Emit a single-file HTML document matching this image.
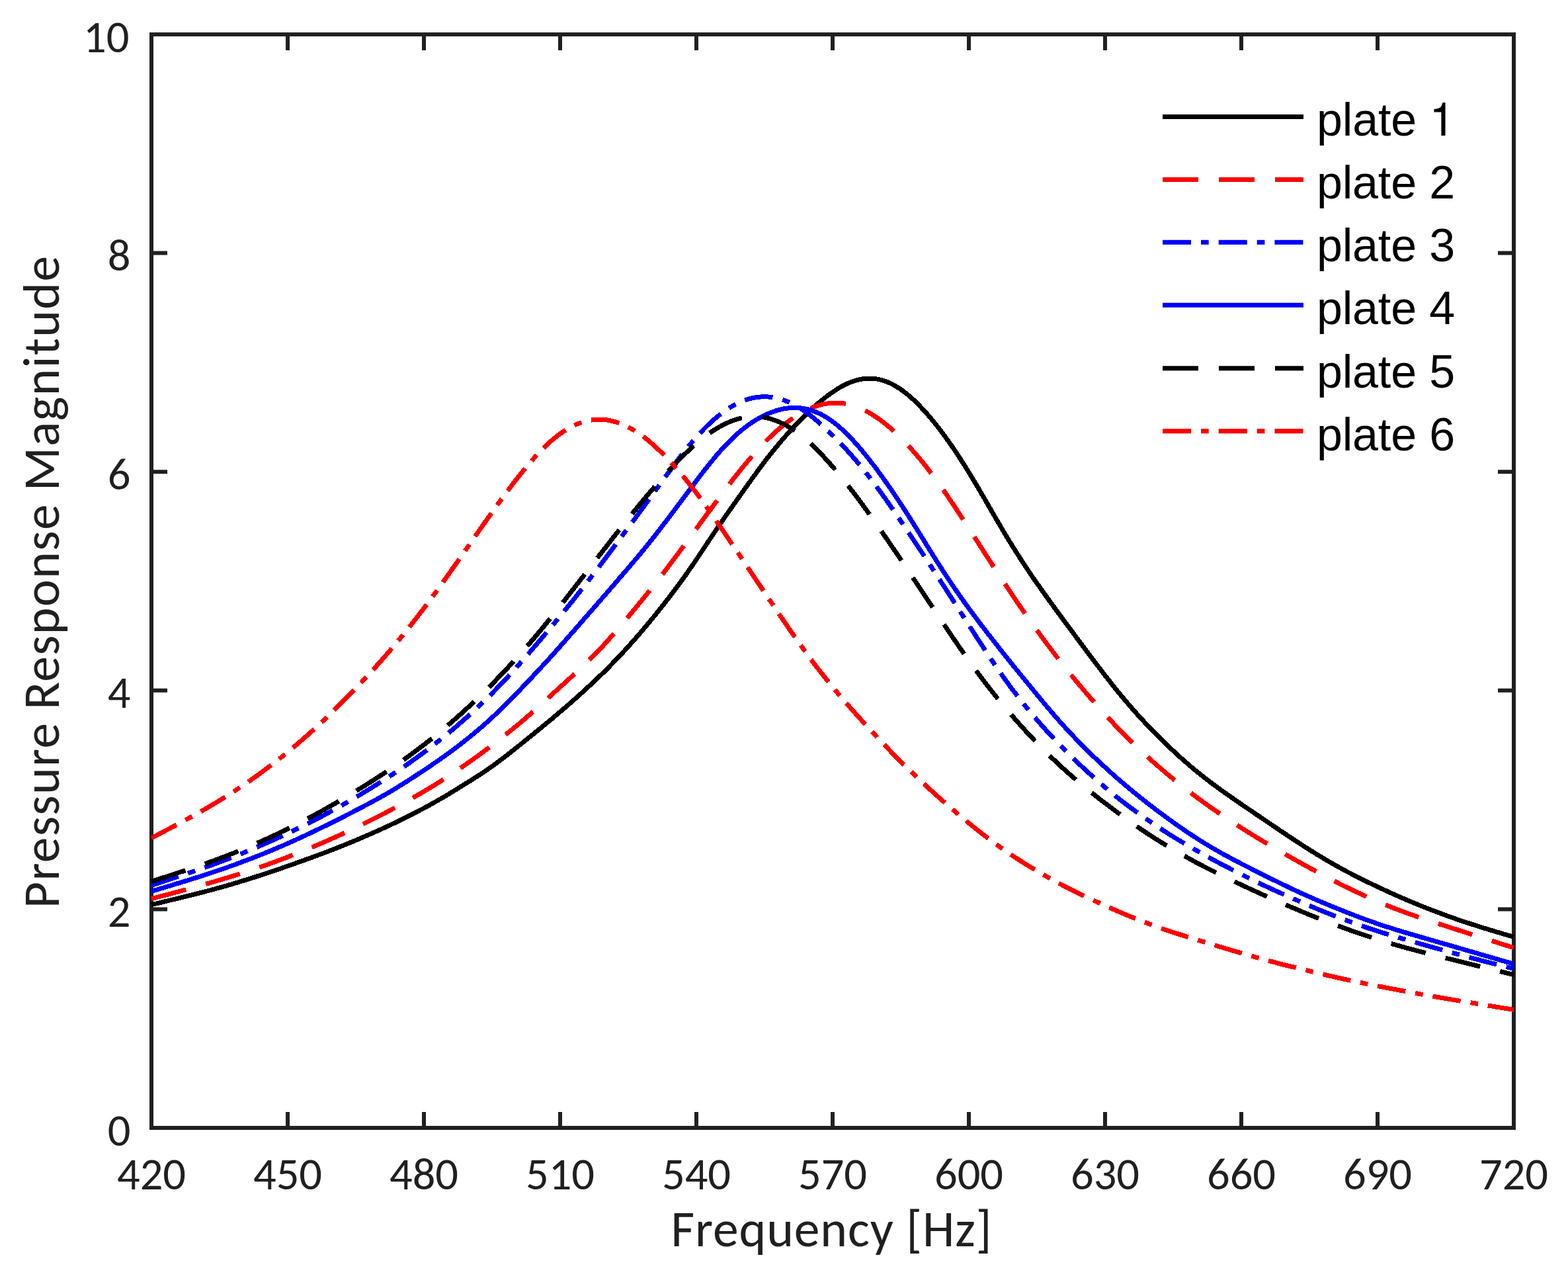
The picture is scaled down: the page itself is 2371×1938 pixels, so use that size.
<!DOCTYPE html><html><head><meta charset="utf-8"><style>html,body{margin:0;padding:0;background:#fff;}svg{display:block;}.tk{font-family:Carlito,"Liberation Sans",sans-serif;fill:#202020;}.lg{font-family:"Liberation Sans",Arial,sans-serif;fill:#000;}.h1{font-family:"TeX Gyre Heros",FreeSans,"Liberation Sans",Arial,sans-serif;}</style></head><body>
<svg width="2371" height="1938" viewBox="0 0 2371 1938">
<rect width="2371" height="1938" fill="#fff"/>
<g stroke="#202020" stroke-width="6" fill="none" stroke-linecap="square">
<rect x="229.0" y="52.0" width="2060.0" height="1653.0" stroke-linecap="butt"/>
<path d="M229.0 1705.0 V1681.0 M229.0 52.0 V76.0" stroke-linecap="butt"/>
<path d="M435.0 1705.0 V1681.0 M435.0 52.0 V76.0" stroke-linecap="butt"/>
<path d="M641.0 1705.0 V1681.0 M641.0 52.0 V76.0" stroke-linecap="butt"/>
<path d="M847.0 1705.0 V1681.0 M847.0 52.0 V76.0" stroke-linecap="butt"/>
<path d="M1053.0 1705.0 V1681.0 M1053.0 52.0 V76.0" stroke-linecap="butt"/>
<path d="M1259.0 1705.0 V1681.0 M1259.0 52.0 V76.0" stroke-linecap="butt"/>
<path d="M1465.0 1705.0 V1681.0 M1465.0 52.0 V76.0" stroke-linecap="butt"/>
<path d="M1671.0 1705.0 V1681.0 M1671.0 52.0 V76.0" stroke-linecap="butt"/>
<path d="M1877.0 1705.0 V1681.0 M1877.0 52.0 V76.0" stroke-linecap="butt"/>
<path d="M2083.0 1705.0 V1681.0 M2083.0 52.0 V76.0" stroke-linecap="butt"/>
<path d="M2289.0 1705.0 V1681.0 M2289.0 52.0 V76.0" stroke-linecap="butt"/>
<path d="M229.0 1705.0 H253.0 M2289.0 1705.0 H2265.0" stroke-linecap="butt"/>
<path d="M229.0 1374.4 H253.0 M2289.0 1374.4 H2265.0" stroke-linecap="butt"/>
<path d="M229.0 1043.8 H253.0 M2289.0 1043.8 H2265.0" stroke-linecap="butt"/>
<path d="M229.0 713.2 H253.0 M2289.0 713.2 H2265.0" stroke-linecap="butt"/>
<path d="M229.0 382.6 H253.0 M2289.0 382.6 H2265.0" stroke-linecap="butt"/>
<path d="M229.0 52.0 H253.0 M2289.0 52.0 H2265.0" stroke-linecap="butt"/>
</g>
<g fill="none" stroke-width="7" stroke-linejoin="round" stroke-linecap="butt" shape-rendering="crispEdges">
<path d="M229.0 1367.7 L233.0 1366.7 L237.0 1365.8 L241.0 1364.8 L245.0 1363.9 L249.0 1362.9 L253.0 1362.0 L257.0 1361.0 L261.0 1360.0 L265.0 1359.1 L269.0 1358.1 L273.0 1357.1 L277.0 1356.2 L281.0 1355.2 L285.0 1354.2 L289.0 1353.2 L293.0 1352.2 L297.0 1351.2 L301.0 1350.1 L305.0 1349.1 L309.0 1348.1 L313.0 1347.0 L317.0 1346.0 L321.0 1344.9 L325.0 1343.8 L329.0 1342.7 L333.0 1341.6 L337.0 1340.5 L341.0 1339.4 L345.0 1338.2 L349.0 1337.1 L353.0 1335.9 L357.0 1334.7 L361.0 1333.5 L365.0 1332.3 L369.0 1331.0 L373.0 1329.8 L377.0 1328.6 L381.0 1327.3 L385.0 1326.0 L389.0 1324.7 L393.0 1323.4 L397.0 1322.1 L401.0 1320.8 L405.0 1319.5 L409.0 1318.1 L413.0 1316.8 L417.0 1315.4 L421.0 1314.1 L425.0 1312.7 L429.0 1311.3 L433.0 1309.9 L437.0 1308.5 L441.0 1307.1 L445.0 1305.7 L449.0 1304.3 L453.0 1302.9 L457.0 1301.4 L461.0 1300.0 L465.0 1298.6 L469.0 1297.1 L473.0 1295.6 L477.0 1294.2 L481.0 1292.7 L485.0 1291.2 L489.0 1289.7 L493.0 1288.2 L497.0 1286.7 L501.0 1285.1 L505.0 1283.6 L509.0 1282.0 L513.0 1280.4 L517.0 1278.9 L521.0 1277.3 L525.0 1275.6 L529.0 1274.0 L533.0 1272.4 L537.0 1270.7 L541.0 1269.0 L545.0 1267.3 L549.0 1265.6 L553.0 1263.9 L557.0 1262.2 L561.0 1260.4 L565.0 1258.6 L569.0 1256.9 L573.0 1255.1 L577.0 1253.2 L581.0 1251.4 L585.0 1249.5 L589.0 1247.7 L593.0 1245.8 L597.0 1243.9 L601.0 1242.0 L605.0 1240.0 L609.0 1238.1 L613.0 1236.1 L617.0 1234.1 L621.0 1232.1 L625.0 1230.1 L629.0 1228.0 L633.0 1225.9 L637.0 1223.8 L641.0 1221.7 L645.0 1219.5 L649.0 1217.4 L653.0 1215.1 L657.0 1212.9 L661.0 1210.6 L665.0 1208.3 L669.0 1206.0 L673.0 1203.7 L677.0 1201.3 L681.0 1198.9 L685.0 1196.4 L689.0 1194.0 L693.0 1191.5 L697.0 1189.0 L701.0 1186.5 L705.0 1184.0 L709.0 1181.6 L713.0 1179.1 L717.0 1176.5 L721.0 1174.0 L725.0 1171.4 L729.0 1168.8 L733.0 1166.1 L737.0 1163.4 L741.0 1160.6 L745.0 1157.8 L749.0 1154.9 L753.0 1151.9 L757.0 1148.9 L761.0 1145.9 L765.0 1142.8 L769.0 1139.7 L773.0 1136.5 L777.0 1133.4 L781.0 1130.2 L785.0 1127.0 L789.0 1123.8 L793.0 1120.6 L797.0 1117.3 L801.0 1114.1 L805.0 1110.9 L809.0 1107.6 L813.0 1104.4 L817.0 1101.1 L821.0 1097.8 L825.0 1094.5 L829.0 1091.2 L833.0 1087.9 L837.0 1084.5 L841.0 1081.1 L845.0 1077.8 L849.0 1074.3 L853.0 1070.9 L857.0 1067.5 L861.0 1064.0 L865.0 1060.5 L869.0 1057.0 L873.0 1053.4 L877.0 1049.8 L881.0 1046.2 L885.0 1042.6 L889.0 1038.9 L893.0 1035.2 L897.0 1031.5 L901.0 1027.7 L905.0 1023.8 L909.0 1020.0 L913.0 1016.1 L917.0 1012.1 L921.0 1008.1 L925.0 1004.0 L929.0 999.9 L933.0 995.7 L937.0 991.5 L941.0 987.2 L945.0 982.9 L949.0 978.5 L953.0 974.1 L957.0 969.6 L961.0 965.1 L965.0 960.5 L969.0 955.8 L973.0 951.1 L977.0 946.4 L981.0 941.6 L985.0 936.7 L989.0 931.8 L993.0 926.9 L997.0 921.9 L1001.0 916.9 L1005.0 911.8 L1009.0 906.6 L1013.0 901.5 L1017.0 896.2 L1021.0 891.0 L1025.0 885.6 L1029.0 880.2 L1033.0 874.6 L1037.0 869.0 L1041.0 863.3 L1045.0 857.5 L1049.0 851.6 L1053.0 845.7 L1057.0 839.7 L1061.0 833.7 L1065.0 827.7 L1069.0 821.6 L1073.0 815.6 L1077.0 809.7 L1081.0 803.7 L1085.0 797.8 L1089.0 792.0 L1093.0 786.2 L1097.0 780.4 L1101.0 774.7 L1105.0 769.0 L1109.0 763.3 L1113.0 757.7 L1117.0 752.0 L1121.0 746.4 L1125.0 740.7 L1129.0 735.1 L1133.0 729.5 L1137.0 723.9 L1141.0 718.4 L1145.0 713.0 L1149.0 707.5 L1153.0 702.2 L1157.0 696.9 L1161.0 691.7 L1165.0 686.6 L1169.0 681.6 L1173.0 676.7 L1177.0 671.9 L1181.0 667.1 L1185.0 662.4 L1189.0 657.9 L1193.0 653.4 L1197.0 649.0 L1201.0 644.7 L1205.0 640.4 L1209.0 636.3 L1213.0 632.3 L1217.0 628.3 L1221.0 624.4 L1225.0 620.6 L1229.0 616.9 L1233.0 613.3 L1237.0 609.8 L1241.0 606.4 L1245.0 603.2 L1249.0 600.0 L1253.0 597.0 L1257.0 594.1 L1261.0 591.4 L1265.0 588.8 L1269.0 586.3 L1273.0 584.1 L1277.0 582.0 L1281.0 580.0 L1285.0 578.3 L1289.0 576.8 L1293.0 575.4 L1297.0 574.3 L1301.0 573.4 L1305.0 572.7 L1309.0 572.3 L1313.0 572.0 L1317.0 572.1 L1321.0 572.3 L1325.0 572.8 L1329.0 573.5 L1333.0 574.5 L1337.0 575.7 L1341.0 577.2 L1345.0 578.8 L1349.0 580.8 L1353.0 582.9 L1357.0 585.3 L1361.0 587.9 L1365.0 590.7 L1369.0 593.8 L1373.0 597.0 L1377.0 600.4 L1381.0 604.0 L1385.0 607.8 L1389.0 611.8 L1393.0 616.0 L1397.0 620.3 L1401.0 624.7 L1405.0 629.3 L1409.0 634.1 L1413.0 639.0 L1417.0 644.0 L1421.0 649.2 L1425.0 654.5 L1429.0 659.9 L1433.0 665.4 L1437.0 671.1 L1441.0 676.9 L1445.0 682.8 L1449.0 688.9 L1453.0 695.0 L1457.0 701.2 L1461.0 707.6 L1465.0 714.1 L1469.0 720.6 L1473.0 727.3 L1477.0 734.0 L1481.0 740.8 L1485.0 747.6 L1489.0 754.5 L1493.0 761.4 L1497.0 768.4 L1501.0 775.3 L1505.0 782.2 L1509.0 789.0 L1513.0 795.8 L1517.0 802.6 L1521.0 809.2 L1525.0 815.9 L1529.0 822.4 L1533.0 828.8 L1537.0 835.2 L1541.0 841.4 L1545.0 847.6 L1549.0 853.7 L1553.0 859.7 L1557.0 865.7 L1561.0 871.6 L1565.0 877.4 L1569.0 883.1 L1573.0 888.8 L1577.0 894.4 L1581.0 900.0 L1585.0 905.6 L1589.0 911.1 L1593.0 916.6 L1597.0 922.1 L1601.0 927.5 L1605.0 933.0 L1609.0 938.4 L1613.0 943.8 L1617.0 949.2 L1621.0 954.6 L1625.0 960.0 L1629.0 965.4 L1633.0 970.7 L1637.0 976.1 L1641.0 981.5 L1645.0 986.8 L1649.0 992.1 L1653.0 997.4 L1657.0 1002.7 L1661.0 1008.0 L1665.0 1013.2 L1669.0 1018.4 L1673.0 1023.6 L1677.0 1028.7 L1681.0 1033.8 L1685.0 1038.8 L1689.0 1043.8 L1693.0 1048.7 L1697.0 1053.5 L1701.0 1058.3 L1705.0 1063.0 L1709.0 1067.6 L1713.0 1072.2 L1717.0 1076.7 L1721.0 1081.2 L1725.0 1085.6 L1729.0 1089.9 L1733.0 1094.2 L1737.0 1098.4 L1741.0 1102.5 L1745.0 1106.6 L1749.0 1110.7 L1753.0 1114.7 L1757.0 1118.7 L1761.0 1122.6 L1765.0 1126.5 L1769.0 1130.3 L1773.0 1134.0 L1777.0 1137.8 L1781.0 1141.4 L1785.0 1145.1 L1789.0 1148.6 L1793.0 1152.1 L1797.0 1155.6 L1801.0 1159.0 L1805.0 1162.4 L1809.0 1165.7 L1813.0 1168.9 L1817.0 1172.1 L1821.0 1175.3 L1825.0 1178.4 L1829.0 1181.5 L1833.0 1184.5 L1837.0 1187.5 L1841.0 1190.4 L1845.0 1193.3 L1849.0 1196.2 L1853.0 1199.0 L1857.0 1201.8 L1861.0 1204.6 L1865.0 1207.4 L1869.0 1210.2 L1873.0 1212.9 L1877.0 1215.7 L1881.0 1218.4 L1885.0 1221.1 L1889.0 1223.8 L1893.0 1226.6 L1897.0 1229.3 L1901.0 1232.0 L1905.0 1234.7 L1909.0 1237.4 L1913.0 1240.1 L1917.0 1242.8 L1921.0 1245.5 L1925.0 1248.3 L1929.0 1251.0 L1933.0 1253.7 L1937.0 1256.4 L1941.0 1259.0 L1945.0 1261.7 L1949.0 1264.4 L1953.0 1267.0 L1957.0 1269.7 L1961.0 1272.3 L1965.0 1274.9 L1969.0 1277.5 L1973.0 1280.1 L1977.0 1282.6 L1981.0 1285.1 L1985.0 1287.6 L1989.0 1290.1 L1993.0 1292.6 L1997.0 1295.0 L2001.0 1297.4 L2005.0 1299.8 L2009.0 1302.1 L2013.0 1304.4 L2017.0 1306.7 L2021.0 1309.0 L2025.0 1311.2 L2029.0 1313.4 L2033.0 1315.6 L2037.0 1317.7 L2041.0 1319.8 L2045.0 1321.9 L2049.0 1324.0 L2053.0 1326.0 L2057.0 1328.0 L2061.0 1330.0 L2065.0 1332.0 L2069.0 1333.9 L2073.0 1335.8 L2077.0 1337.7 L2081.0 1339.6 L2085.0 1341.5 L2089.0 1343.4 L2093.0 1345.2 L2097.0 1347.1 L2101.0 1348.9 L2105.0 1350.7 L2109.0 1352.5 L2113.0 1354.3 L2117.0 1356.0 L2121.0 1357.8 L2125.0 1359.5 L2129.0 1361.2 L2133.0 1362.9 L2137.0 1364.6 L2141.0 1366.2 L2145.0 1367.9 L2149.0 1369.5 L2153.0 1371.1 L2157.0 1372.7 L2161.0 1374.2 L2165.0 1375.8 L2169.0 1377.3 L2173.0 1378.8 L2177.0 1380.3 L2181.0 1381.8 L2185.0 1383.3 L2189.0 1384.7 L2193.0 1386.2 L2197.0 1387.6 L2201.0 1389.0 L2205.0 1390.4 L2209.0 1391.7 L2213.0 1393.1 L2217.0 1394.4 L2221.0 1395.7 L2225.0 1397.0 L2229.0 1398.3 L2233.0 1399.6 L2237.0 1400.9 L2241.0 1402.1 L2245.0 1403.4 L2249.0 1404.6 L2253.0 1405.8 L2257.0 1407.0 L2261.0 1408.2 L2265.0 1409.4 L2269.0 1410.6 L2273.0 1411.8 L2277.0 1412.9 L2281.0 1414.1 L2285.0 1415.3 L2289.0 1416.5" stroke="#000000"/>
<path d="M229.0 1358.6 L233.0 1357.6 L237.0 1356.5 L241.0 1355.5 L245.0 1354.4 L249.0 1353.4 L253.0 1352.3 L257.0 1351.3 L261.0 1350.2 L265.0 1349.1 L269.0 1348.1 L273.0 1347.0 L277.0 1345.9 L281.0 1344.8 L285.0 1343.8 L289.0 1342.7 L293.0 1341.6 L297.0 1340.5 L301.0 1339.4 L305.0 1338.2 L309.0 1337.1 L313.0 1336.0 L317.0 1334.8 L321.0 1333.7 L325.0 1332.5 L329.0 1331.3 L333.0 1330.1 L337.0 1328.9 L341.0 1327.7 L345.0 1326.5 L349.0 1325.3 L353.0 1324.0 L357.0 1322.8 L361.0 1321.5 L365.0 1320.2 L369.0 1318.9 L373.0 1317.6 L377.0 1316.3 L381.0 1315.0 L385.0 1313.6 L389.0 1312.3 L393.0 1310.9 L397.0 1309.5 L401.0 1308.1 L405.0 1306.7 L409.0 1305.3 L413.0 1303.8 L417.0 1302.4 L421.0 1300.9 L425.0 1299.4 L429.0 1297.9 L433.0 1296.4 L437.0 1294.8 L441.0 1293.3 L445.0 1291.7 L449.0 1290.1 L453.0 1288.5 L457.0 1286.9 L461.0 1285.3 L465.0 1283.6 L469.0 1282.0 L473.0 1280.3 L477.0 1278.6 L481.0 1276.9 L485.0 1275.2 L489.0 1273.5 L493.0 1271.7 L497.0 1270.0 L501.0 1268.2 L505.0 1266.4 L509.0 1264.6 L513.0 1262.8 L517.0 1260.9 L521.0 1259.1 L525.0 1257.2 L529.0 1255.4 L533.0 1253.5 L537.0 1251.6 L541.0 1249.7 L545.0 1247.7 L549.0 1245.8 L553.0 1243.8 L557.0 1241.8 L561.0 1239.8 L565.0 1237.8 L569.0 1235.8 L573.0 1233.8 L577.0 1231.7 L581.0 1229.7 L585.0 1227.6 L589.0 1225.5 L593.0 1223.3 L597.0 1221.2 L601.0 1219.0 L605.0 1216.9 L609.0 1214.7 L613.0 1212.5 L617.0 1210.2 L621.0 1208.0 L625.0 1205.7 L629.0 1203.4 L633.0 1201.1 L637.0 1198.8 L641.0 1196.4 L645.0 1194.1 L649.0 1191.7 L653.0 1189.2 L657.0 1186.8 L661.0 1184.3 L665.0 1181.8 L669.0 1179.2 L673.0 1176.6 L677.0 1174.0 L681.0 1171.4 L685.0 1168.8 L689.0 1166.1 L693.0 1163.4 L697.0 1160.7 L701.0 1157.9 L705.0 1155.1 L709.0 1152.3 L713.0 1149.5 L717.0 1146.7 L721.0 1143.8 L725.0 1140.9 L729.0 1138.0 L733.0 1135.0 L737.0 1132.0 L741.0 1129.0 L745.0 1125.9 L749.0 1122.8 L753.0 1119.7 L757.0 1116.5 L761.0 1113.4 L765.0 1110.2 L769.0 1107.0 L773.0 1103.8 L777.0 1100.6 L781.0 1097.3 L785.0 1094.0 L789.0 1090.6 L793.0 1087.2 L797.0 1083.7 L801.0 1080.2 L805.0 1076.7 L809.0 1073.1 L813.0 1069.5 L817.0 1065.9 L821.0 1062.3 L825.0 1058.6 L829.0 1055.0 L833.0 1051.4 L837.0 1047.7 L841.0 1044.1 L845.0 1040.4 L849.0 1036.8 L853.0 1033.2 L857.0 1029.5 L861.0 1025.9 L865.0 1022.2 L869.0 1018.6 L873.0 1014.9 L877.0 1011.2 L881.0 1007.4 L885.0 1003.6 L889.0 999.7 L893.0 995.8 L897.0 991.8 L901.0 987.7 L905.0 983.5 L909.0 979.3 L913.0 975.0 L917.0 970.6 L921.0 966.1 L925.0 961.6 L929.0 957.1 L933.0 952.4 L937.0 947.8 L941.0 943.1 L945.0 938.3 L949.0 933.5 L953.0 928.7 L957.0 923.9 L961.0 919.1 L965.0 914.2 L969.0 909.3 L973.0 904.4 L977.0 899.5 L981.0 894.5 L985.0 889.5 L989.0 884.4 L993.0 879.3 L997.0 874.1 L1001.0 869.0 L1005.0 863.8 L1009.0 858.5 L1013.0 853.3 L1017.0 848.0 L1021.0 842.6 L1025.0 837.3 L1029.0 831.9 L1033.0 826.5 L1037.0 821.1 L1041.0 815.6 L1045.0 810.1 L1049.0 804.7 L1053.0 799.2 L1057.0 793.7 L1061.0 788.3 L1065.0 782.8 L1069.0 777.3 L1073.0 771.9 L1077.0 766.5 L1081.0 761.1 L1085.0 755.7 L1089.0 750.3 L1093.0 745.0 L1097.0 739.6 L1101.0 734.4 L1105.0 729.1 L1109.0 724.0 L1113.0 718.9 L1117.0 713.8 L1121.0 708.9 L1125.0 704.0 L1129.0 699.2 L1133.0 694.5 L1137.0 689.8 L1141.0 685.3 L1145.0 680.8 L1149.0 676.5 L1153.0 672.2 L1157.0 668.1 L1161.0 664.0 L1165.0 660.1 L1169.0 656.4 L1173.0 652.7 L1177.0 649.2 L1181.0 645.8 L1185.0 642.5 L1189.0 639.3 L1193.0 636.3 L1197.0 633.5 L1201.0 630.7 L1205.0 628.2 L1209.0 625.7 L1213.0 623.4 L1217.0 621.3 L1221.0 619.3 L1225.0 617.5 L1229.0 615.9 L1233.0 614.4 L1237.0 613.1 L1241.0 612.0 L1245.0 611.0 L1249.0 610.3 L1253.0 609.7 L1257.0 609.3 L1261.0 609.0 L1265.0 609.0 L1269.0 609.2 L1273.0 609.5 L1277.0 610.1 L1281.0 610.8 L1285.0 611.7 L1289.0 612.8 L1293.0 614.1 L1297.0 615.6 L1301.0 617.3 L1305.0 619.1 L1309.0 621.1 L1313.0 623.2 L1317.0 625.5 L1321.0 628.0 L1325.0 630.6 L1329.0 633.4 L1333.0 636.3 L1337.0 639.4 L1341.0 642.6 L1345.0 645.9 L1349.0 649.4 L1353.0 653.1 L1357.0 656.8 L1361.0 660.7 L1365.0 664.8 L1369.0 668.9 L1373.0 673.2 L1377.0 677.6 L1381.0 682.1 L1385.0 686.7 L1389.0 691.4 L1393.0 696.2 L1397.0 701.2 L1401.0 706.2 L1405.0 711.4 L1409.0 716.6 L1413.0 722.0 L1417.0 727.5 L1421.0 733.0 L1425.0 738.7 L1429.0 744.4 L1433.0 750.2 L1437.0 756.1 L1441.0 762.0 L1445.0 768.0 L1449.0 774.1 L1453.0 780.2 L1457.0 786.3 L1461.0 792.5 L1465.0 798.7 L1469.0 804.9 L1473.0 811.1 L1477.0 817.3 L1481.0 823.6 L1485.0 829.8 L1489.0 836.0 L1493.0 842.2 L1497.0 848.3 L1501.0 854.5 L1505.0 860.6 L1509.0 866.8 L1513.0 872.8 L1517.0 878.9 L1521.0 884.9 L1525.0 890.9 L1529.0 896.9 L1533.0 902.8 L1537.0 908.7 L1541.0 914.5 L1545.0 920.3 L1549.0 926.1 L1553.0 931.8 L1557.0 937.5 L1561.0 943.1 L1565.0 948.7 L1569.0 954.2 L1573.0 959.7 L1577.0 965.2 L1581.0 970.6 L1585.0 976.0 L1589.0 981.3 L1593.0 986.5 L1597.0 991.7 L1601.0 996.9 L1605.0 1002.0 L1609.0 1007.1 L1613.0 1012.1 L1617.0 1017.1 L1621.0 1022.0 L1625.0 1026.9 L1629.0 1031.7 L1633.0 1036.5 L1637.0 1041.2 L1641.0 1046.0 L1645.0 1050.6 L1649.0 1055.2 L1653.0 1059.8 L1657.0 1064.4 L1661.0 1068.9 L1665.0 1073.4 L1669.0 1077.8 L1673.0 1082.2 L1677.0 1086.6 L1681.0 1090.8 L1685.0 1095.1 L1689.0 1099.2 L1693.0 1103.4 L1697.0 1107.5 L1701.0 1111.5 L1705.0 1115.5 L1709.0 1119.4 L1713.0 1123.3 L1717.0 1127.1 L1721.0 1130.9 L1725.0 1134.7 L1729.0 1138.4 L1733.0 1142.1 L1737.0 1145.7 L1741.0 1149.3 L1745.0 1152.9 L1749.0 1156.4 L1753.0 1159.9 L1757.0 1163.3 L1761.0 1166.7 L1765.0 1170.1 L1769.0 1173.4 L1773.0 1176.7 L1777.0 1180.0 L1781.0 1183.2 L1785.0 1186.4 L1789.0 1189.5 L1793.0 1192.7 L1797.0 1195.7 L1801.0 1198.8 L1805.0 1201.8 L1809.0 1204.8 L1813.0 1207.8 L1817.0 1210.7 L1821.0 1213.6 L1825.0 1216.4 L1829.0 1219.3 L1833.0 1222.1 L1837.0 1224.9 L1841.0 1227.6 L1845.0 1230.4 L1849.0 1233.1 L1853.0 1235.8 L1857.0 1238.4 L1861.0 1241.1 L1865.0 1243.7 L1869.0 1246.3 L1873.0 1248.9 L1877.0 1251.4 L1881.0 1254.0 L1885.0 1256.5 L1889.0 1259.0 L1893.0 1261.5 L1897.0 1263.9 L1901.0 1266.4 L1905.0 1268.8 L1909.0 1271.2 L1913.0 1273.6 L1917.0 1275.9 L1921.0 1278.3 L1925.0 1280.7 L1929.0 1283.0 L1933.0 1285.3 L1937.0 1287.6 L1941.0 1290.0 L1945.0 1292.2 L1949.0 1294.5 L1953.0 1296.8 L1957.0 1299.1 L1961.0 1301.3 L1965.0 1303.5 L1969.0 1305.8 L1973.0 1308.0 L1977.0 1310.2 L1981.0 1312.4 L1985.0 1314.6 L1989.0 1316.7 L1993.0 1318.9 L1997.0 1321.0 L2001.0 1323.2 L2005.0 1325.3 L2009.0 1327.4 L2013.0 1329.5 L2017.0 1331.6 L2021.0 1333.6 L2025.0 1335.7 L2029.0 1337.7 L2033.0 1339.7 L2037.0 1341.6 L2041.0 1343.6 L2045.0 1345.5 L2049.0 1347.4 L2053.0 1349.3 L2057.0 1351.1 L2061.0 1353.0 L2065.0 1354.8 L2069.0 1356.6 L2073.0 1358.4 L2077.0 1360.1 L2081.0 1361.9 L2085.0 1363.6 L2089.0 1365.3 L2093.0 1367.0 L2097.0 1368.6 L2101.0 1370.2 L2105.0 1371.8 L2109.0 1373.4 L2113.0 1374.9 L2117.0 1376.4 L2121.0 1377.9 L2125.0 1379.4 L2129.0 1380.8 L2133.0 1382.2 L2137.0 1383.6 L2141.0 1385.0 L2145.0 1386.4 L2149.0 1387.7 L2153.0 1389.1 L2157.0 1390.4 L2161.0 1391.8 L2165.0 1393.1 L2169.0 1394.4 L2173.0 1395.7 L2177.0 1397.0 L2181.0 1398.3 L2185.0 1399.6 L2189.0 1400.9 L2193.0 1402.2 L2197.0 1403.5 L2201.0 1404.7 L2205.0 1406.0 L2209.0 1407.3 L2213.0 1408.6 L2217.0 1409.9 L2221.0 1411.2 L2225.0 1412.5 L2229.0 1413.7 L2233.0 1415.0 L2237.0 1416.3 L2241.0 1417.6 L2245.0 1418.9 L2249.0 1420.1 L2253.0 1421.4 L2257.0 1422.7 L2261.0 1424.0 L2265.0 1425.2 L2269.0 1426.5 L2273.0 1427.8 L2277.0 1429.0 L2281.0 1430.3 L2285.0 1431.6 L2289.0 1432.8" stroke="#ff0000" stroke-dasharray="54 31"/>
<path d="M229.0 1338.3 L233.0 1337.0 L237.0 1335.7 L241.0 1334.4 L245.0 1333.1 L249.0 1331.8 L253.0 1330.5 L257.0 1329.2 L261.0 1327.9 L265.0 1326.6 L269.0 1325.3 L273.0 1324.0 L277.0 1322.6 L281.0 1321.3 L285.0 1319.9 L289.0 1318.6 L293.0 1317.2 L297.0 1315.8 L301.0 1314.5 L305.0 1313.1 L309.0 1311.7 L313.0 1310.2 L317.0 1308.8 L321.0 1307.4 L325.0 1305.9 L329.0 1304.4 L333.0 1302.9 L337.0 1301.4 L341.0 1299.9 L345.0 1298.4 L349.0 1296.8 L353.0 1295.3 L357.0 1293.7 L361.0 1292.1 L365.0 1290.5 L369.0 1288.9 L373.0 1287.2 L377.0 1285.6 L381.0 1283.9 L385.0 1282.2 L389.0 1280.5 L393.0 1278.8 L397.0 1277.0 L401.0 1275.3 L405.0 1273.5 L409.0 1271.8 L413.0 1270.0 L417.0 1268.1 L421.0 1266.3 L425.0 1264.5 L429.0 1262.6 L433.0 1260.8 L437.0 1258.9 L441.0 1257.0 L445.0 1255.1 L449.0 1253.1 L453.0 1251.2 L457.0 1249.2 L461.0 1247.2 L465.0 1245.2 L469.0 1243.2 L473.0 1241.1 L477.0 1239.1 L481.0 1237.0 L485.0 1234.9 L489.0 1232.8 L493.0 1230.6 L497.0 1228.4 L501.0 1226.3 L505.0 1224.1 L509.0 1221.8 L513.0 1219.6 L517.0 1217.4 L521.0 1215.1 L525.0 1212.8 L529.0 1210.5 L533.0 1208.2 L537.0 1205.8 L541.0 1203.5 L545.0 1201.1 L549.0 1198.7 L553.0 1196.3 L557.0 1193.8 L561.0 1191.4 L565.0 1188.9 L569.0 1186.4 L573.0 1183.9 L577.0 1181.4 L581.0 1178.8 L585.0 1176.2 L589.0 1173.6 L593.0 1171.0 L597.0 1168.3 L601.0 1165.7 L605.0 1163.0 L609.0 1160.2 L613.0 1157.5 L617.0 1154.7 L621.0 1151.9 L625.0 1149.0 L629.0 1146.1 L633.0 1143.2 L637.0 1140.3 L641.0 1137.3 L645.0 1134.3 L649.0 1131.3 L653.0 1128.2 L657.0 1125.1 L661.0 1122.0 L665.0 1118.8 L669.0 1115.6 L673.0 1112.4 L677.0 1109.1 L681.0 1105.8 L685.0 1102.4 L689.0 1099.0 L693.0 1095.6 L697.0 1092.1 L701.0 1088.6 L705.0 1085.1 L709.0 1081.5 L713.0 1077.8 L717.0 1074.1 L721.0 1070.4 L725.0 1066.6 L729.0 1062.8 L733.0 1058.9 L737.0 1055.0 L741.0 1051.1 L745.0 1047.1 L749.0 1043.0 L753.0 1038.9 L757.0 1034.7 L761.0 1030.5 L765.0 1026.3 L769.0 1022.0 L773.0 1017.6 L777.0 1013.2 L781.0 1008.7 L785.0 1004.2 L789.0 999.7 L793.0 995.2 L797.0 990.6 L801.0 986.0 L805.0 981.3 L809.0 976.7 L813.0 972.0 L817.0 967.3 L821.0 962.6 L825.0 957.8 L829.0 953.1 L833.0 948.3 L837.0 943.5 L841.0 938.7 L845.0 933.8 L849.0 929.0 L853.0 924.1 L857.0 919.2 L861.0 914.2 L865.0 909.3 L869.0 904.3 L873.0 899.2 L877.0 894.2 L881.0 889.1 L885.0 884.0 L889.0 878.8 L893.0 873.6 L897.0 868.4 L901.0 863.2 L905.0 857.9 L909.0 852.6 L913.0 847.3 L917.0 842.0 L921.0 836.6 L925.0 831.3 L929.0 825.9 L933.0 820.5 L937.0 815.1 L941.0 809.7 L945.0 804.3 L949.0 798.9 L953.0 793.5 L957.0 788.1 L961.0 782.7 L965.0 777.3 L969.0 771.8 L973.0 766.4 L977.0 761.0 L981.0 755.5 L985.0 750.0 L989.0 744.5 L993.0 739.0 L997.0 733.5 L1001.0 728.0 L1005.0 722.4 L1009.0 716.9 L1013.0 711.4 L1017.0 706.0 L1021.0 700.6 L1025.0 695.3 L1029.0 690.0 L1033.0 684.9 L1037.0 679.8 L1041.0 674.9 L1045.0 670.1 L1049.0 665.4 L1053.0 660.9 L1057.0 656.4 L1061.0 652.2 L1065.0 648.0 L1069.0 644.0 L1073.0 640.2 L1077.0 636.5 L1081.0 633.0 L1085.0 629.6 L1089.0 626.4 L1093.0 623.3 L1097.0 620.5 L1101.0 617.8 L1105.0 615.3 L1109.0 612.9 L1113.0 610.8 L1117.0 608.9 L1121.0 607.1 L1125.0 605.5 L1129.0 604.1 L1133.0 602.9 L1137.0 601.9 L1141.0 601.1 L1145.0 600.5 L1149.0 600.1 L1153.0 599.8 L1157.0 599.8 L1161.0 599.9 L1165.0 600.3 L1169.0 600.8 L1173.0 601.5 L1177.0 602.5 L1181.0 603.6 L1185.0 604.9 L1189.0 606.4 L1193.0 608.0 L1197.0 609.9 L1201.0 612.0 L1205.0 614.2 L1209.0 616.6 L1213.0 619.2 L1217.0 621.9 L1221.0 624.8 L1225.0 627.8 L1229.0 630.9 L1233.0 634.2 L1237.0 637.6 L1241.0 641.1 L1245.0 644.7 L1249.0 648.4 L1253.0 652.2 L1257.0 656.1 L1261.0 660.0 L1265.0 664.1 L1269.0 668.2 L1273.0 672.4 L1277.0 676.6 L1281.0 681.0 L1285.0 685.4 L1289.0 690.0 L1293.0 694.6 L1297.0 699.3 L1301.0 704.1 L1305.0 709.0 L1309.0 714.1 L1313.0 719.2 L1317.0 724.3 L1321.0 729.6 L1325.0 735.0 L1329.0 740.4 L1333.0 745.9 L1337.0 751.5 L1341.0 757.1 L1345.0 762.8 L1349.0 768.5 L1353.0 774.3 L1357.0 780.1 L1361.0 786.0 L1365.0 791.9 L1369.0 797.8 L1373.0 803.7 L1377.0 809.7 L1381.0 815.6 L1385.0 821.6 L1389.0 827.7 L1393.0 833.7 L1397.0 839.8 L1401.0 845.8 L1405.0 851.9 L1409.0 858.0 L1413.0 864.2 L1417.0 870.3 L1421.0 876.5 L1425.0 882.6 L1429.0 888.8 L1433.0 895.0 L1437.0 901.3 L1441.0 907.5 L1445.0 913.7 L1449.0 920.0 L1453.0 926.2 L1457.0 932.5 L1461.0 938.7 L1465.0 945.0 L1469.0 951.2 L1473.0 957.4 L1477.0 963.6 L1481.0 969.8 L1485.0 975.9 L1489.0 982.0 L1493.0 988.1 L1497.0 994.1 L1501.0 1000.0 L1505.0 1005.9 L1509.0 1011.8 L1513.0 1017.5 L1517.0 1023.2 L1521.0 1028.8 L1525.0 1034.3 L1529.0 1039.7 L1533.0 1045.0 L1537.0 1050.2 L1541.0 1055.4 L1545.0 1060.5 L1549.0 1065.5 L1553.0 1070.4 L1557.0 1075.3 L1561.0 1080.1 L1565.0 1084.8 L1569.0 1089.4 L1573.0 1094.0 L1577.0 1098.5 L1581.0 1103.0 L1585.0 1107.4 L1589.0 1111.7 L1593.0 1116.0 L1597.0 1120.2 L1601.0 1124.4 L1605.0 1128.5 L1609.0 1132.6 L1613.0 1136.6 L1617.0 1140.6 L1621.0 1144.5 L1625.0 1148.4 L1629.0 1152.3 L1633.0 1156.1 L1637.0 1159.9 L1641.0 1163.6 L1645.0 1167.3 L1649.0 1170.9 L1653.0 1174.5 L1657.0 1178.1 L1661.0 1181.6 L1665.0 1185.1 L1669.0 1188.6 L1673.0 1192.0 L1677.0 1195.3 L1681.0 1198.6 L1685.0 1201.9 L1689.0 1205.1 L1693.0 1208.3 L1697.0 1211.4 L1701.0 1214.5 L1705.0 1217.5 L1709.0 1220.5 L1713.0 1223.5 L1717.0 1226.4 L1721.0 1229.3 L1725.0 1232.2 L1729.0 1235.0 L1733.0 1237.8 L1737.0 1240.6 L1741.0 1243.3 L1745.0 1246.1 L1749.0 1248.8 L1753.0 1251.4 L1757.0 1254.0 L1761.0 1256.6 L1765.0 1259.2 L1769.0 1261.7 L1773.0 1264.2 L1777.0 1266.7 L1781.0 1269.1 L1785.0 1271.5 L1789.0 1273.9 L1793.0 1276.3 L1797.0 1278.6 L1801.0 1280.9 L1805.0 1283.2 L1809.0 1285.5 L1813.0 1287.8 L1817.0 1290.1 L1821.0 1292.3 L1825.0 1294.5 L1829.0 1296.7 L1833.0 1298.9 L1837.0 1301.1 L1841.0 1303.2 L1845.0 1305.4 L1849.0 1307.5 L1853.0 1309.6 L1857.0 1311.6 L1861.0 1313.7 L1865.0 1315.7 L1869.0 1317.8 L1873.0 1319.8 L1877.0 1321.8 L1881.0 1323.8 L1885.0 1325.8 L1889.0 1327.7 L1893.0 1329.7 L1897.0 1331.6 L1901.0 1333.6 L1905.0 1335.5 L1909.0 1337.4 L1913.0 1339.3 L1917.0 1341.2 L1921.0 1343.0 L1925.0 1344.9 L1929.0 1346.7 L1933.0 1348.5 L1937.0 1350.3 L1941.0 1352.1 L1945.0 1353.9 L1949.0 1355.6 L1953.0 1357.4 L1957.0 1359.2 L1961.0 1360.9 L1965.0 1362.6 L1969.0 1364.4 L1973.0 1366.1 L1977.0 1367.8 L1981.0 1369.5 L1985.0 1371.2 L1989.0 1372.9 L1993.0 1374.5 L1997.0 1376.2 L2001.0 1377.8 L2005.0 1379.4 L2009.0 1381.0 L2013.0 1382.6 L2017.0 1384.2 L2021.0 1385.7 L2025.0 1387.3 L2029.0 1388.8 L2033.0 1390.3 L2037.0 1391.8 L2041.0 1393.2 L2045.0 1394.7 L2049.0 1396.1 L2053.0 1397.5 L2057.0 1398.9 L2061.0 1400.3 L2065.0 1401.7 L2069.0 1403.0 L2073.0 1404.3 L2077.0 1405.6 L2081.0 1406.9 L2085.0 1408.2 L2089.0 1409.5 L2093.0 1410.7 L2097.0 1412.0 L2101.0 1413.2 L2105.0 1414.4 L2109.0 1415.6 L2113.0 1416.8 L2117.0 1418.0 L2121.0 1419.1 L2125.0 1420.3 L2129.0 1421.4 L2133.0 1422.6 L2137.0 1423.7 L2141.0 1424.9 L2145.0 1426.0 L2149.0 1427.1 L2153.0 1428.3 L2157.0 1429.4 L2161.0 1430.5 L2165.0 1431.6 L2169.0 1432.8 L2173.0 1433.9 L2177.0 1435.0 L2181.0 1436.1 L2185.0 1437.2 L2189.0 1438.3 L2193.0 1439.4 L2197.0 1440.5 L2201.0 1441.6 L2205.0 1442.7 L2209.0 1443.8 L2213.0 1444.9 L2217.0 1446.0 L2221.0 1447.0 L2225.0 1448.1 L2229.0 1449.1 L2233.0 1450.2 L2237.0 1451.2 L2241.0 1452.3 L2245.0 1453.3 L2249.0 1454.3 L2253.0 1455.4 L2257.0 1456.4 L2261.0 1457.4 L2265.0 1458.4 L2269.0 1459.5 L2273.0 1460.5 L2277.0 1461.5 L2281.0 1462.5 L2285.0 1463.5 L2289.0 1464.5" stroke="#0000ff" stroke-dasharray="43 15 11.7 15"/>
<path d="M229.0 1347.5 L233.0 1346.3 L237.0 1345.1 L241.0 1343.9 L245.0 1342.7 L249.0 1341.5 L253.0 1340.3 L257.0 1339.1 L261.0 1337.8 L265.0 1336.6 L269.0 1335.4 L273.0 1334.2 L277.0 1333.0 L281.0 1331.7 L285.0 1330.5 L289.0 1329.2 L293.0 1328.0 L297.0 1326.7 L301.0 1325.4 L305.0 1324.1 L309.0 1322.8 L313.0 1321.5 L317.0 1320.2 L321.0 1318.9 L325.0 1317.5 L329.0 1316.2 L333.0 1314.8 L337.0 1313.4 L341.0 1312.1 L345.0 1310.7 L349.0 1309.2 L353.0 1307.8 L357.0 1306.4 L361.0 1304.9 L365.0 1303.4 L369.0 1301.9 L373.0 1300.4 L377.0 1298.9 L381.0 1297.4 L385.0 1295.8 L389.0 1294.3 L393.0 1292.7 L397.0 1291.1 L401.0 1289.5 L405.0 1287.8 L409.0 1286.2 L413.0 1284.5 L417.0 1282.8 L421.0 1281.1 L425.0 1279.4 L429.0 1277.7 L433.0 1275.9 L437.0 1274.2 L441.0 1272.4 L445.0 1270.6 L449.0 1268.8 L453.0 1266.9 L457.0 1265.1 L461.0 1263.2 L465.0 1261.3 L469.0 1259.5 L473.0 1257.6 L477.0 1255.6 L481.0 1253.7 L485.0 1251.8 L489.0 1249.8 L493.0 1247.9 L497.0 1245.9 L501.0 1243.9 L505.0 1241.9 L509.0 1239.9 L513.0 1237.9 L517.0 1235.9 L521.0 1233.9 L525.0 1231.8 L529.0 1229.8 L533.0 1227.7 L537.0 1225.6 L541.0 1223.6 L545.0 1221.5 L549.0 1219.4 L553.0 1217.3 L557.0 1215.2 L561.0 1213.0 L565.0 1210.8 L569.0 1208.7 L573.0 1206.5 L577.0 1204.2 L581.0 1202.0 L585.0 1199.7 L589.0 1197.4 L593.0 1195.0 L597.0 1192.6 L601.0 1190.2 L605.0 1187.7 L609.0 1185.2 L613.0 1182.7 L617.0 1180.1 L621.0 1177.6 L625.0 1175.0 L629.0 1172.4 L633.0 1169.7 L637.0 1167.1 L641.0 1164.4 L645.0 1161.8 L649.0 1159.1 L653.0 1156.4 L657.0 1153.6 L661.0 1150.8 L665.0 1148.1 L669.0 1145.2 L673.0 1142.4 L677.0 1139.5 L681.0 1136.6 L685.0 1133.6 L689.0 1130.6 L693.0 1127.6 L697.0 1124.5 L701.0 1121.4 L705.0 1118.2 L709.0 1115.0 L713.0 1111.8 L717.0 1108.5 L721.0 1105.1 L725.0 1101.7 L729.0 1098.3 L733.0 1094.8 L737.0 1091.2 L741.0 1087.6 L745.0 1083.9 L749.0 1080.1 L753.0 1076.3 L757.0 1072.5 L761.0 1068.6 L765.0 1064.6 L769.0 1060.6 L773.0 1056.6 L777.0 1052.5 L781.0 1048.4 L785.0 1044.2 L789.0 1040.0 L793.0 1035.8 L797.0 1031.6 L801.0 1027.3 L805.0 1023.1 L809.0 1018.8 L813.0 1014.5 L817.0 1010.2 L821.0 1005.9 L825.0 1001.5 L829.0 997.2 L833.0 992.8 L837.0 988.3 L841.0 983.9 L845.0 979.4 L849.0 974.8 L853.0 970.3 L857.0 965.8 L861.0 961.2 L865.0 956.6 L869.0 952.1 L873.0 947.5 L877.0 942.9 L881.0 938.3 L885.0 933.7 L889.0 929.1 L893.0 924.5 L897.0 920.0 L901.0 915.4 L905.0 910.8 L909.0 906.2 L913.0 901.6 L917.0 897.0 L921.0 892.4 L925.0 887.7 L929.0 883.1 L933.0 878.4 L937.0 873.8 L941.0 869.1 L945.0 864.5 L949.0 859.8 L953.0 855.1 L957.0 850.4 L961.0 845.7 L965.0 840.9 L969.0 836.1 L973.0 831.3 L977.0 826.4 L981.0 821.4 L985.0 816.4 L989.0 811.4 L993.0 806.3 L997.0 801.1 L1001.0 795.9 L1005.0 790.7 L1009.0 785.5 L1013.0 780.2 L1017.0 774.9 L1021.0 769.5 L1025.0 764.2 L1029.0 758.8 L1033.0 753.4 L1037.0 748.1 L1041.0 742.7 L1045.0 737.4 L1049.0 732.1 L1053.0 726.8 L1057.0 721.5 L1061.0 716.3 L1065.0 711.2 L1069.0 706.1 L1073.0 701.1 L1077.0 696.2 L1081.0 691.4 L1085.0 686.6 L1089.0 682.0 L1093.0 677.6 L1097.0 673.3 L1101.0 669.1 L1105.0 665.1 L1109.0 661.2 L1113.0 657.5 L1117.0 654.0 L1121.0 650.6 L1125.0 647.4 L1129.0 644.4 L1133.0 641.5 L1137.0 638.7 L1141.0 636.2 L1145.0 633.7 L1149.0 631.5 L1153.0 629.3 L1157.0 627.4 L1161.0 625.5 L1165.0 623.9 L1169.0 622.4 L1173.0 621.0 L1177.0 619.8 L1181.0 618.8 L1185.0 617.9 L1189.0 617.3 L1193.0 616.8 L1197.0 616.5 L1201.0 616.3 L1205.0 616.4 L1209.0 616.7 L1213.0 617.1 L1217.0 617.8 L1221.0 618.6 L1225.0 619.7 L1229.0 621.0 L1233.0 622.5 L1237.0 624.2 L1241.0 626.1 L1245.0 628.2 L1249.0 630.6 L1253.0 633.1 L1257.0 635.9 L1261.0 638.8 L1265.0 642.0 L1269.0 645.3 L1273.0 648.9 L1277.0 652.6 L1281.0 656.5 L1285.0 660.6 L1289.0 664.8 L1293.0 669.2 L1297.0 673.7 L1301.0 678.3 L1305.0 683.1 L1309.0 688.0 L1313.0 693.0 L1317.0 698.1 L1321.0 703.3 L1325.0 708.6 L1329.0 714.0 L1333.0 719.5 L1337.0 725.1 L1341.0 730.8 L1345.0 736.5 L1349.0 742.3 L1353.0 748.2 L1357.0 754.2 L1361.0 760.3 L1365.0 766.4 L1369.0 772.5 L1373.0 778.8 L1377.0 785.0 L1381.0 791.4 L1385.0 797.7 L1389.0 804.1 L1393.0 810.6 L1397.0 817.0 L1401.0 823.5 L1405.0 829.9 L1409.0 836.4 L1413.0 842.7 L1417.0 849.1 L1421.0 855.4 L1425.0 861.6 L1429.0 867.7 L1433.0 873.8 L1437.0 879.8 L1441.0 885.7 L1445.0 891.5 L1449.0 897.3 L1453.0 903.0 L1457.0 908.6 L1461.0 914.2 L1465.0 919.7 L1469.0 925.1 L1473.0 930.5 L1477.0 935.8 L1481.0 941.1 L1485.0 946.4 L1489.0 951.6 L1493.0 956.8 L1497.0 961.9 L1501.0 967.0 L1505.0 972.1 L1509.0 977.2 L1513.0 982.3 L1517.0 987.3 L1521.0 992.3 L1525.0 997.3 L1529.0 1002.3 L1533.0 1007.3 L1537.0 1012.2 L1541.0 1017.1 L1545.0 1022.0 L1549.0 1026.9 L1553.0 1031.8 L1557.0 1036.7 L1561.0 1041.6 L1565.0 1046.4 L1569.0 1051.3 L1573.0 1056.1 L1577.0 1061.0 L1581.0 1065.8 L1585.0 1070.5 L1589.0 1075.2 L1593.0 1079.9 L1597.0 1084.5 L1601.0 1089.0 L1605.0 1093.5 L1609.0 1097.9 L1613.0 1102.3 L1617.0 1106.6 L1621.0 1110.8 L1625.0 1115.0 L1629.0 1119.2 L1633.0 1123.3 L1637.0 1127.3 L1641.0 1131.3 L1645.0 1135.3 L1649.0 1139.2 L1653.0 1143.1 L1657.0 1146.9 L1661.0 1150.7 L1665.0 1154.4 L1669.0 1158.1 L1673.0 1161.8 L1677.0 1165.4 L1681.0 1169.0 L1685.0 1172.6 L1689.0 1176.1 L1693.0 1179.6 L1697.0 1183.0 L1701.0 1186.4 L1705.0 1189.8 L1709.0 1193.1 L1713.0 1196.4 L1717.0 1199.7 L1721.0 1202.9 L1725.0 1206.2 L1729.0 1209.3 L1733.0 1212.5 L1737.0 1215.6 L1741.0 1218.7 L1745.0 1221.7 L1749.0 1224.8 L1753.0 1227.8 L1757.0 1230.7 L1761.0 1233.7 L1765.0 1236.6 L1769.0 1239.5 L1773.0 1242.4 L1777.0 1245.3 L1781.0 1248.1 L1785.0 1250.9 L1789.0 1253.6 L1793.0 1256.4 L1797.0 1259.1 L1801.0 1261.7 L1805.0 1264.3 L1809.0 1266.9 L1813.0 1269.5 L1817.0 1272.0 L1821.0 1274.5 L1825.0 1276.9 L1829.0 1279.3 L1833.0 1281.7 L1837.0 1284.0 L1841.0 1286.3 L1845.0 1288.6 L1849.0 1290.8 L1853.0 1293.0 L1857.0 1295.1 L1861.0 1297.3 L1865.0 1299.4 L1869.0 1301.5 L1873.0 1303.6 L1877.0 1305.7 L1881.0 1307.7 L1885.0 1309.8 L1889.0 1311.8 L1893.0 1313.9 L1897.0 1315.9 L1901.0 1317.9 L1905.0 1319.9 L1909.0 1321.9 L1913.0 1323.9 L1917.0 1325.9 L1921.0 1327.9 L1925.0 1329.9 L1929.0 1331.8 L1933.0 1333.8 L1937.0 1335.8 L1941.0 1337.7 L1945.0 1339.6 L1949.0 1341.5 L1953.0 1343.4 L1957.0 1345.3 L1961.0 1347.2 L1965.0 1349.0 L1969.0 1350.8 L1973.0 1352.6 L1977.0 1354.4 L1981.0 1356.2 L1985.0 1357.9 L1989.0 1359.7 L1993.0 1361.4 L1997.0 1363.1 L2001.0 1364.8 L2005.0 1366.5 L2009.0 1368.1 L2013.0 1369.8 L2017.0 1371.4 L2021.0 1373.0 L2025.0 1374.6 L2029.0 1376.3 L2033.0 1377.8 L2037.0 1379.4 L2041.0 1381.0 L2045.0 1382.5 L2049.0 1384.1 L2053.0 1385.6 L2057.0 1387.1 L2061.0 1388.6 L2065.0 1390.1 L2069.0 1391.5 L2073.0 1392.9 L2077.0 1394.3 L2081.0 1395.7 L2085.0 1397.1 L2089.0 1398.4 L2093.0 1399.8 L2097.0 1401.1 L2101.0 1402.3 L2105.0 1403.6 L2109.0 1404.8 L2113.0 1406.1 L2117.0 1407.3 L2121.0 1408.5 L2125.0 1409.7 L2129.0 1410.9 L2133.0 1412.1 L2137.0 1413.2 L2141.0 1414.4 L2145.0 1415.6 L2149.0 1416.7 L2153.0 1417.9 L2157.0 1419.0 L2161.0 1420.2 L2165.0 1421.3 L2169.0 1422.5 L2173.0 1423.6 L2177.0 1424.8 L2181.0 1425.9 L2185.0 1427.1 L2189.0 1428.2 L2193.0 1429.4 L2197.0 1430.5 L2201.0 1431.7 L2205.0 1432.9 L2209.0 1434.0 L2213.0 1435.2 L2217.0 1436.3 L2221.0 1437.5 L2225.0 1438.7 L2229.0 1439.8 L2233.0 1441.0 L2237.0 1442.2 L2241.0 1443.3 L2245.0 1444.5 L2249.0 1445.7 L2253.0 1446.8 L2257.0 1448.0 L2261.0 1449.1 L2265.0 1450.3 L2269.0 1451.5 L2273.0 1452.6 L2277.0 1453.8 L2281.0 1454.9 L2285.0 1456.1 L2289.0 1457.2" stroke="#0000ff"/>
<path d="M229.0 1332.4 L233.0 1331.1 L237.0 1329.9 L241.0 1328.6 L245.0 1327.3 L249.0 1326.1 L253.0 1324.8 L257.0 1323.5 L261.0 1322.2 L265.0 1320.9 L269.0 1319.6 L273.0 1318.3 L277.0 1317.0 L281.0 1315.7 L285.0 1314.3 L289.0 1313.0 L293.0 1311.7 L297.0 1310.3 L301.0 1308.9 L305.0 1307.5 L309.0 1306.1 L313.0 1304.7 L317.0 1303.3 L321.0 1301.8 L325.0 1300.4 L329.0 1298.9 L333.0 1297.4 L337.0 1295.9 L341.0 1294.4 L345.0 1292.8 L349.0 1291.3 L353.0 1289.7 L357.0 1288.1 L361.0 1286.4 L365.0 1284.8 L369.0 1283.1 L373.0 1281.4 L377.0 1279.7 L381.0 1278.0 L385.0 1276.2 L389.0 1274.5 L393.0 1272.7 L397.0 1270.9 L401.0 1269.1 L405.0 1267.3 L409.0 1265.4 L413.0 1263.5 L417.0 1261.7 L421.0 1259.7 L425.0 1257.8 L429.0 1255.9 L433.0 1253.9 L437.0 1252.0 L441.0 1250.0 L445.0 1247.9 L449.0 1245.9 L453.0 1243.9 L457.0 1241.8 L461.0 1239.7 L465.0 1237.6 L469.0 1235.5 L473.0 1233.3 L477.0 1231.2 L481.0 1229.0 L485.0 1226.8 L489.0 1224.6 L493.0 1222.3 L497.0 1220.1 L501.0 1217.8 L505.0 1215.5 L509.0 1213.2 L513.0 1210.9 L517.0 1208.6 L521.0 1206.2 L525.0 1203.9 L529.0 1201.5 L533.0 1199.1 L537.0 1196.6 L541.0 1194.2 L545.0 1191.7 L549.0 1189.3 L553.0 1186.8 L557.0 1184.3 L561.0 1181.7 L565.0 1179.2 L569.0 1176.6 L573.0 1174.0 L577.0 1171.4 L581.0 1168.8 L585.0 1166.1 L589.0 1163.4 L593.0 1160.7 L597.0 1157.9 L601.0 1155.2 L605.0 1152.4 L609.0 1149.6 L613.0 1146.7 L617.0 1143.8 L621.0 1140.9 L625.0 1138.0 L629.0 1135.0 L633.0 1132.0 L637.0 1129.0 L641.0 1125.9 L645.0 1122.8 L649.0 1119.6 L653.0 1116.5 L657.0 1113.3 L661.0 1110.0 L665.0 1106.7 L669.0 1103.4 L673.0 1100.1 L677.0 1096.7 L681.0 1093.2 L685.0 1089.8 L689.0 1086.3 L693.0 1082.7 L697.0 1079.2 L701.0 1075.6 L705.0 1071.9 L709.0 1068.2 L713.0 1064.5 L717.0 1060.7 L721.0 1056.9 L725.0 1053.0 L729.0 1049.1 L733.0 1045.2 L737.0 1041.2 L741.0 1037.2 L745.0 1033.2 L749.0 1029.1 L753.0 1024.9 L757.0 1020.8 L761.0 1016.6 L765.0 1012.3 L769.0 1008.0 L773.0 1003.7 L777.0 999.3 L781.0 994.9 L785.0 990.4 L789.0 986.0 L793.0 981.4 L797.0 976.9 L801.0 972.3 L805.0 967.6 L809.0 962.9 L813.0 958.2 L817.0 953.3 L821.0 948.5 L825.0 943.6 L829.0 938.7 L833.0 933.7 L837.0 928.7 L841.0 923.6 L845.0 918.6 L849.0 913.5 L853.0 908.4 L857.0 903.3 L861.0 898.1 L865.0 893.0 L869.0 887.8 L873.0 882.7 L877.0 877.5 L881.0 872.4 L885.0 867.2 L889.0 862.0 L893.0 856.8 L897.0 851.6 L901.0 846.5 L905.0 841.3 L909.0 836.1 L913.0 831.0 L917.0 825.8 L921.0 820.7 L925.0 815.6 L929.0 810.4 L933.0 805.4 L937.0 800.3 L941.0 795.2 L945.0 790.2 L949.0 785.2 L953.0 780.2 L957.0 775.2 L961.0 770.3 L965.0 765.4 L969.0 760.6 L973.0 755.7 L977.0 750.9 L981.0 746.2 L985.0 741.5 L989.0 736.8 L993.0 732.1 L997.0 727.5 L1001.0 723.0 L1005.0 718.5 L1009.0 714.0 L1013.0 709.7 L1017.0 705.4 L1021.0 701.1 L1025.0 697.0 L1029.0 692.9 L1033.0 688.9 L1037.0 685.0 L1041.0 681.2 L1045.0 677.5 L1049.0 673.9 L1053.0 670.4 L1057.0 667.0 L1061.0 663.7 L1065.0 660.6 L1069.0 657.6 L1073.0 654.7 L1077.0 652.0 L1081.0 649.4 L1085.0 647.0 L1089.0 644.7 L1093.0 642.5 L1097.0 640.5 L1101.0 638.7 L1105.0 637.0 L1109.0 635.5 L1113.0 634.2 L1117.0 633.0 L1121.0 632.0 L1125.0 631.2 L1129.0 630.5 L1133.0 630.1 L1137.0 629.8 L1141.0 629.7 L1145.0 629.8 L1149.0 630.1 L1153.0 630.6 L1157.0 631.3 L1161.0 632.1 L1165.0 633.2 L1169.0 634.4 L1173.0 635.8 L1177.0 637.4 L1181.0 639.2 L1185.0 641.1 L1189.0 643.3 L1193.0 645.6 L1197.0 648.1 L1201.0 650.7 L1205.0 653.5 L1209.0 656.5 L1213.0 659.7 L1217.0 663.0 L1221.0 666.4 L1225.0 670.0 L1229.0 673.7 L1233.0 677.6 L1237.0 681.6 L1241.0 685.7 L1245.0 689.9 L1249.0 694.2 L1253.0 698.6 L1257.0 703.2 L1261.0 707.8 L1265.0 712.5 L1269.0 717.3 L1273.0 722.2 L1277.0 727.2 L1281.0 732.3 L1285.0 737.4 L1289.0 742.6 L1293.0 747.8 L1297.0 753.2 L1301.0 758.5 L1305.0 764.0 L1309.0 769.5 L1313.0 775.0 L1317.0 780.6 L1321.0 786.2 L1325.0 791.9 L1329.0 797.6 L1333.0 803.4 L1337.0 809.1 L1341.0 814.9 L1345.0 820.7 L1349.0 826.6 L1353.0 832.4 L1357.0 838.3 L1361.0 844.2 L1365.0 850.2 L1369.0 856.1 L1373.0 862.1 L1377.0 868.1 L1381.0 874.1 L1385.0 880.1 L1389.0 886.1 L1393.0 892.2 L1397.0 898.2 L1401.0 904.2 L1405.0 910.3 L1409.0 916.3 L1413.0 922.3 L1417.0 928.3 L1421.0 934.3 L1425.0 940.3 L1429.0 946.3 L1433.0 952.3 L1437.0 958.2 L1441.0 964.1 L1445.0 969.9 L1449.0 975.7 L1453.0 981.5 L1457.0 987.2 L1461.0 992.9 L1465.0 998.6 L1469.0 1004.1 L1473.0 1009.7 L1477.0 1015.1 L1481.0 1020.5 L1485.0 1025.9 L1489.0 1031.1 L1493.0 1036.3 L1497.0 1041.5 L1501.0 1046.5 L1505.0 1051.5 L1509.0 1056.4 L1513.0 1061.3 L1517.0 1066.1 L1521.0 1070.9 L1525.0 1075.6 L1529.0 1080.3 L1533.0 1084.9 L1537.0 1089.5 L1541.0 1094.0 L1545.0 1098.5 L1549.0 1102.9 L1553.0 1107.3 L1557.0 1111.6 L1561.0 1115.8 L1565.0 1120.0 L1569.0 1124.2 L1573.0 1128.3 L1577.0 1132.3 L1581.0 1136.3 L1585.0 1140.3 L1589.0 1144.2 L1593.0 1148.0 L1597.0 1151.8 L1601.0 1155.5 L1605.0 1159.2 L1609.0 1162.9 L1613.0 1166.5 L1617.0 1170.0 L1621.0 1173.5 L1625.0 1177.0 L1629.0 1180.4 L1633.0 1183.8 L1637.0 1187.2 L1641.0 1190.5 L1645.0 1193.7 L1649.0 1197.0 L1653.0 1200.2 L1657.0 1203.3 L1661.0 1206.5 L1665.0 1209.6 L1669.0 1212.7 L1673.0 1215.7 L1677.0 1218.7 L1681.0 1221.7 L1685.0 1224.7 L1689.0 1227.7 L1693.0 1230.7 L1697.0 1233.6 L1701.0 1236.5 L1705.0 1239.4 L1709.0 1242.2 L1713.0 1245.0 L1717.0 1247.8 L1721.0 1250.6 L1725.0 1253.3 L1729.0 1256.0 L1733.0 1258.7 L1737.0 1261.3 L1741.0 1263.9 L1745.0 1266.5 L1749.0 1269.0 L1753.0 1271.5 L1757.0 1274.0 L1761.0 1276.4 L1765.0 1278.9 L1769.0 1281.3 L1773.0 1283.6 L1777.0 1286.0 L1781.0 1288.3 L1785.0 1290.6 L1789.0 1292.9 L1793.0 1295.1 L1797.0 1297.3 L1801.0 1299.5 L1805.0 1301.7 L1809.0 1303.9 L1813.0 1306.0 L1817.0 1308.1 L1821.0 1310.2 L1825.0 1312.2 L1829.0 1314.3 L1833.0 1316.3 L1837.0 1318.3 L1841.0 1320.3 L1845.0 1322.3 L1849.0 1324.2 L1853.0 1326.2 L1857.0 1328.1 L1861.0 1330.0 L1865.0 1331.9 L1869.0 1333.8 L1873.0 1335.7 L1877.0 1337.6 L1881.0 1339.4 L1885.0 1341.3 L1889.0 1343.2 L1893.0 1345.0 L1897.0 1346.8 L1901.0 1348.6 L1905.0 1350.5 L1909.0 1352.3 L1913.0 1354.1 L1917.0 1355.9 L1921.0 1357.6 L1925.0 1359.4 L1929.0 1361.2 L1933.0 1362.9 L1937.0 1364.7 L1941.0 1366.4 L1945.0 1368.1 L1949.0 1369.8 L1953.0 1371.6 L1957.0 1373.2 L1961.0 1374.9 L1965.0 1376.6 L1969.0 1378.3 L1973.0 1379.9 L1977.0 1381.5 L1981.0 1383.2 L1985.0 1384.8 L1989.0 1386.4 L1993.0 1387.9 L1997.0 1389.5 L2001.0 1391.1 L2005.0 1392.6 L2009.0 1394.2 L2013.0 1395.7 L2017.0 1397.2 L2021.0 1398.7 L2025.0 1400.2 L2029.0 1401.6 L2033.0 1403.1 L2037.0 1404.5 L2041.0 1406.0 L2045.0 1407.4 L2049.0 1408.8 L2053.0 1410.2 L2057.0 1411.5 L2061.0 1412.9 L2065.0 1414.3 L2069.0 1415.6 L2073.0 1416.9 L2077.0 1418.2 L2081.0 1419.5 L2085.0 1420.7 L2089.0 1422.0 L2093.0 1423.2 L2097.0 1424.4 L2101.0 1425.6 L2105.0 1426.8 L2109.0 1428.0 L2113.0 1429.1 L2117.0 1430.3 L2121.0 1431.4 L2125.0 1432.5 L2129.0 1433.6 L2133.0 1434.7 L2137.0 1435.7 L2141.0 1436.8 L2145.0 1437.9 L2149.0 1438.9 L2153.0 1439.9 L2157.0 1441.0 L2161.0 1442.0 L2165.0 1443.0 L2169.0 1444.0 L2173.0 1445.0 L2177.0 1446.0 L2181.0 1447.0 L2185.0 1448.0 L2189.0 1449.0 L2193.0 1449.9 L2197.0 1450.9 L2201.0 1451.9 L2205.0 1452.9 L2209.0 1453.9 L2213.0 1454.9 L2217.0 1455.9 L2221.0 1456.9 L2225.0 1457.9 L2229.0 1458.9 L2233.0 1459.9 L2237.0 1460.9 L2241.0 1461.8 L2245.0 1462.8 L2249.0 1463.8 L2253.0 1464.8 L2257.0 1465.8 L2261.0 1466.7 L2265.0 1467.7 L2269.0 1468.7 L2273.0 1469.6 L2277.0 1470.6 L2281.0 1471.6 L2285.0 1472.6 L2289.0 1473.5" stroke="#000000" stroke-dasharray="54 31"/>
<path d="M229.0 1266.8 L233.0 1264.8 L237.0 1262.7 L241.0 1260.6 L245.0 1258.5 L249.0 1256.4 L253.0 1254.3 L257.0 1252.2 L261.0 1250.1 L265.0 1247.9 L269.0 1245.8 L273.0 1243.7 L277.0 1241.5 L281.0 1239.3 L285.0 1237.2 L289.0 1235.0 L293.0 1232.7 L297.0 1230.5 L301.0 1228.3 L305.0 1226.0 L309.0 1223.7 L313.0 1221.4 L317.0 1219.1 L321.0 1216.7 L325.0 1214.3 L329.0 1211.9 L333.0 1209.5 L337.0 1207.0 L341.0 1204.5 L345.0 1202.0 L349.0 1199.5 L353.0 1196.9 L357.0 1194.3 L361.0 1191.6 L365.0 1189.0 L369.0 1186.3 L373.0 1183.5 L377.0 1180.8 L381.0 1178.0 L385.0 1175.2 L389.0 1172.3 L393.0 1169.4 L397.0 1166.5 L401.0 1163.5 L405.0 1160.5 L409.0 1157.5 L413.0 1154.4 L417.0 1151.3 L421.0 1148.2 L425.0 1145.0 L429.0 1141.8 L433.0 1138.6 L437.0 1135.3 L441.0 1132.0 L445.0 1128.6 L449.0 1125.2 L453.0 1121.8 L457.0 1118.3 L461.0 1114.8 L465.0 1111.3 L469.0 1107.7 L473.0 1104.1 L477.0 1100.4 L481.0 1096.7 L485.0 1092.9 L489.0 1089.2 L493.0 1085.4 L497.0 1081.5 L501.0 1077.6 L505.0 1073.7 L509.0 1069.8 L513.0 1065.8 L517.0 1061.8 L521.0 1057.8 L525.0 1053.8 L529.0 1049.7 L533.0 1045.6 L537.0 1041.5 L541.0 1037.3 L545.0 1033.1 L549.0 1028.9 L553.0 1024.6 L557.0 1020.3 L561.0 1015.9 L565.0 1011.5 L569.0 1007.1 L573.0 1002.6 L577.0 998.1 L581.0 993.5 L585.0 988.9 L589.0 984.3 L593.0 979.6 L597.0 974.8 L601.0 970.0 L605.0 965.2 L609.0 960.3 L613.0 955.4 L617.0 950.4 L621.0 945.4 L625.0 940.3 L629.0 935.1 L633.0 929.9 L637.0 924.7 L641.0 919.4 L645.0 914.1 L649.0 908.7 L653.0 903.2 L657.0 897.8 L661.0 892.3 L665.0 886.7 L669.0 881.2 L673.0 875.6 L677.0 870.0 L681.0 864.3 L685.0 858.6 L689.0 853.0 L693.0 847.2 L697.0 841.5 L701.0 835.8 L705.0 830.1 L709.0 824.3 L713.0 818.6 L717.0 812.8 L721.0 807.1 L725.0 801.4 L729.0 795.7 L733.0 790.0 L737.0 784.3 L741.0 778.7 L745.0 773.1 L749.0 767.5 L753.0 761.9 L757.0 756.4 L761.0 750.9 L765.0 745.5 L769.0 740.1 L773.0 734.8 L777.0 729.6 L781.0 724.4 L785.0 719.3 L789.0 714.3 L793.0 709.4 L797.0 704.5 L801.0 699.8 L805.0 695.2 L809.0 690.8 L813.0 686.4 L817.0 682.2 L821.0 678.2 L825.0 674.3 L829.0 670.5 L833.0 666.9 L837.0 663.5 L841.0 660.3 L845.0 657.2 L849.0 654.3 L853.0 651.6 L857.0 649.1 L861.0 646.8 L865.0 644.6 L869.0 642.7 L873.0 640.9 L877.0 639.4 L881.0 638.0 L885.0 636.9 L889.0 635.9 L893.0 635.2 L897.0 634.6 L901.0 634.2 L905.0 634.1 L909.0 634.1 L913.0 634.4 L917.0 634.8 L921.0 635.4 L925.0 636.3 L929.0 637.3 L933.0 638.5 L937.0 639.8 L941.0 641.4 L945.0 643.2 L949.0 645.1 L953.0 647.2 L957.0 649.5 L961.0 651.9 L965.0 654.5 L969.0 657.3 L973.0 660.2 L977.0 663.3 L981.0 666.6 L985.0 670.0 L989.0 673.5 L993.0 677.2 L997.0 681.0 L1001.0 684.9 L1005.0 688.9 L1009.0 693.0 L1013.0 697.3 L1017.0 701.6 L1021.0 706.1 L1025.0 710.6 L1029.0 715.3 L1033.0 720.0 L1037.0 724.8 L1041.0 729.8 L1045.0 734.8 L1049.0 740.0 L1053.0 745.2 L1057.0 750.6 L1061.0 756.0 L1065.0 761.5 L1069.0 767.1 L1073.0 772.8 L1077.0 778.6 L1081.0 784.3 L1085.0 790.2 L1089.0 796.0 L1093.0 801.9 L1097.0 807.8 L1101.0 813.7 L1105.0 819.6 L1109.0 825.5 L1113.0 831.5 L1117.0 837.4 L1121.0 843.3 L1125.0 849.3 L1129.0 855.2 L1133.0 861.2 L1137.0 867.1 L1141.0 873.1 L1145.0 879.1 L1149.0 885.0 L1153.0 891.0 L1157.0 897.0 L1161.0 903.0 L1165.0 908.9 L1169.0 914.9 L1173.0 920.8 L1177.0 926.7 L1181.0 932.6 L1185.0 938.5 L1189.0 944.3 L1193.0 950.1 L1197.0 955.9 L1201.0 961.7 L1205.0 967.4 L1209.0 973.0 L1213.0 978.6 L1217.0 984.2 L1221.0 989.6 L1225.0 995.1 L1229.0 1000.4 L1233.0 1005.7 L1237.0 1011.0 L1241.0 1016.1 L1245.0 1021.2 L1249.0 1026.2 L1253.0 1031.2 L1257.0 1036.1 L1261.0 1040.9 L1265.0 1045.7 L1269.0 1050.4 L1273.0 1055.1 L1277.0 1059.8 L1281.0 1064.4 L1285.0 1069.0 L1289.0 1073.5 L1293.0 1078.0 L1297.0 1082.5 L1301.0 1086.9 L1305.0 1091.3 L1309.0 1095.7 L1313.0 1100.1 L1317.0 1104.4 L1321.0 1108.7 L1325.0 1113.0 L1329.0 1117.3 L1333.0 1121.5 L1337.0 1125.7 L1341.0 1129.8 L1345.0 1134.0 L1349.0 1138.1 L1353.0 1142.1 L1357.0 1146.2 L1361.0 1150.2 L1365.0 1154.2 L1369.0 1158.1 L1373.0 1162.0 L1377.0 1165.9 L1381.0 1169.7 L1385.0 1173.6 L1389.0 1177.3 L1393.0 1181.1 L1397.0 1184.8 L1401.0 1188.5 L1405.0 1192.2 L1409.0 1195.9 L1413.0 1199.5 L1417.0 1203.1 L1421.0 1206.6 L1425.0 1210.2 L1429.0 1213.7 L1433.0 1217.2 L1437.0 1220.6 L1441.0 1224.1 L1445.0 1227.5 L1449.0 1230.9 L1453.0 1234.3 L1457.0 1237.7 L1461.0 1241.0 L1465.0 1244.3 L1469.0 1247.6 L1473.0 1250.8 L1477.0 1254.0 L1481.0 1257.2 L1485.0 1260.3 L1489.0 1263.4 L1493.0 1266.4 L1497.0 1269.4 L1501.0 1272.4 L1505.0 1275.3 L1509.0 1278.2 L1513.0 1281.1 L1517.0 1283.9 L1521.0 1286.7 L1525.0 1289.4 L1529.0 1292.1 L1533.0 1294.8 L1537.0 1297.4 L1541.0 1300.0 L1545.0 1302.6 L1549.0 1305.1 L1553.0 1307.6 L1557.0 1310.0 L1561.0 1312.5 L1565.0 1314.8 L1569.0 1317.2 L1573.0 1319.5 L1577.0 1321.9 L1581.0 1324.1 L1585.0 1326.4 L1589.0 1328.7 L1593.0 1330.9 L1597.0 1333.0 L1601.0 1335.2 L1605.0 1337.3 L1609.0 1339.4 L1613.0 1341.5 L1617.0 1343.5 L1621.0 1345.6 L1625.0 1347.5 L1629.0 1349.5 L1633.0 1351.4 L1637.0 1353.4 L1641.0 1355.2 L1645.0 1357.1 L1649.0 1359.0 L1653.0 1360.8 L1657.0 1362.7 L1661.0 1364.5 L1665.0 1366.3 L1669.0 1368.1 L1673.0 1369.9 L1677.0 1371.7 L1681.0 1373.5 L1685.0 1375.2 L1689.0 1377.0 L1693.0 1378.7 L1697.0 1380.4 L1701.0 1382.1 L1705.0 1383.8 L1709.0 1385.4 L1713.0 1387.0 L1717.0 1388.7 L1721.0 1390.2 L1725.0 1391.8 L1729.0 1393.4 L1733.0 1394.9 L1737.0 1396.4 L1741.0 1397.9 L1745.0 1399.4 L1749.0 1400.9 L1753.0 1402.3 L1757.0 1403.7 L1761.0 1405.1 L1765.0 1406.5 L1769.0 1407.8 L1773.0 1409.2 L1777.0 1410.5 L1781.0 1411.7 L1785.0 1413.0 L1789.0 1414.3 L1793.0 1415.5 L1797.0 1416.7 L1801.0 1417.9 L1805.0 1419.2 L1809.0 1420.4 L1813.0 1421.6 L1817.0 1422.8 L1821.0 1424.0 L1825.0 1425.3 L1829.0 1426.5 L1833.0 1427.7 L1837.0 1428.9 L1841.0 1430.1 L1845.0 1431.4 L1849.0 1432.6 L1853.0 1433.8 L1857.0 1435.0 L1861.0 1436.2 L1865.0 1437.4 L1869.0 1438.5 L1873.0 1439.7 L1877.0 1440.9 L1881.0 1442.0 L1885.0 1443.2 L1889.0 1444.3 L1893.0 1445.4 L1897.0 1446.6 L1901.0 1447.7 L1905.0 1448.8 L1909.0 1449.9 L1913.0 1451.0 L1917.0 1452.1 L1921.0 1453.1 L1925.0 1454.2 L1929.0 1455.2 L1933.0 1456.3 L1937.0 1457.3 L1941.0 1458.3 L1945.0 1459.3 L1949.0 1460.3 L1953.0 1461.3 L1957.0 1462.2 L1961.0 1463.2 L1965.0 1464.2 L1969.0 1465.2 L1973.0 1466.1 L1977.0 1467.1 L1981.0 1468.1 L1985.0 1469.1 L1989.0 1470.0 L1993.0 1471.0 L1997.0 1472.0 L2001.0 1472.9 L2005.0 1473.9 L2009.0 1474.8 L2013.0 1475.8 L2017.0 1476.7 L2021.0 1477.6 L2025.0 1478.5 L2029.0 1479.4 L2033.0 1480.3 L2037.0 1481.1 L2041.0 1482.0 L2045.0 1482.8 L2049.0 1483.7 L2053.0 1484.5 L2057.0 1485.3 L2061.0 1486.2 L2065.0 1487.0 L2069.0 1487.8 L2073.0 1488.6 L2077.0 1489.4 L2081.0 1490.2 L2085.0 1491.0 L2089.0 1491.7 L2093.0 1492.5 L2097.0 1493.3 L2101.0 1494.1 L2105.0 1494.8 L2109.0 1495.6 L2113.0 1496.3 L2117.0 1497.1 L2121.0 1497.8 L2125.0 1498.6 L2129.0 1499.3 L2133.0 1500.1 L2137.0 1500.8 L2141.0 1501.5 L2145.0 1502.3 L2149.0 1503.0 L2153.0 1503.7 L2157.0 1504.4 L2161.0 1505.1 L2165.0 1505.8 L2169.0 1506.6 L2173.0 1507.3 L2177.0 1507.9 L2181.0 1508.6 L2185.0 1509.3 L2189.0 1510.0 L2193.0 1510.7 L2197.0 1511.3 L2201.0 1512.0 L2205.0 1512.7 L2209.0 1513.3 L2213.0 1514.0 L2217.0 1514.6 L2221.0 1515.3 L2225.0 1515.9 L2229.0 1516.6 L2233.0 1517.2 L2237.0 1517.9 L2241.0 1518.6 L2245.0 1519.2 L2249.0 1519.9 L2253.0 1520.5 L2257.0 1521.2 L2261.0 1521.9 L2265.0 1522.5 L2269.0 1523.2 L2273.0 1523.8 L2277.0 1524.5 L2281.0 1525.1 L2285.0 1525.8 L2289.0 1526.5" stroke="#ff0000" stroke-dasharray="43 15 11.7 15"/>
</g>
<g class="tk" font-size="68.5">
<text x="229.0" y="1797.5" text-anchor="middle" textLength="104.16">420</text>
<text x="435.0" y="1797.5" text-anchor="middle" textLength="104.16">450</text>
<text x="641.0" y="1797.5" text-anchor="middle" textLength="104.16">480</text>
<text x="847.0" y="1797.5" text-anchor="middle" textLength="104.16">510</text>
<text x="1053.0" y="1797.5" text-anchor="middle" textLength="104.16">540</text>
<text x="1259.0" y="1797.5" text-anchor="middle" textLength="104.16">570</text>
<text x="1465.0" y="1797.5" text-anchor="middle" textLength="104.16">600</text>
<text x="1671.0" y="1797.5" text-anchor="middle" textLength="104.16">630</text>
<text x="1877.0" y="1797.5" text-anchor="middle" textLength="104.16">660</text>
<text x="2083.0" y="1797.5" text-anchor="middle" textLength="104.16">690</text>
<text x="2289.0" y="1797.5" text-anchor="middle" textLength="104.16">720</text>
<text x="197.5" y="1731.6" text-anchor="end" textLength="34.72">0</text>
<text x="197.5" y="1401.0" text-anchor="end" textLength="34.72">2</text>
<text x="197.5" y="1070.4" text-anchor="end" textLength="34.72">4</text>
<text x="197.5" y="739.8" text-anchor="end" textLength="34.72">6</text>
<text x="197.5" y="409.2" text-anchor="end" textLength="34.72">8</text>
<text x="195.5" y="78.6" text-anchor="end" textLength="69.44">10</text>
</g>
<text class="tk" font-size="77.6" x="1257" y="1884.2" text-anchor="middle" textLength="485">Frequency [Hz]</text>
<text class="tk" font-size="77.6" transform="translate(88.8 880) rotate(-90)" x="0" y="0" text-anchor="middle" textLength="986">Pressure Response Magnitude</text>
<g fill="none" stroke-width="7">
<path d="M1758 176.4 H1971" stroke="#000000"/>
<path d="M1758 271.4 H1971" stroke="#ff0000" stroke-dasharray="54 31"/>
<path d="M1758 366.3 H1971" stroke="#0000ff" stroke-dasharray="43 15 11.7 15"/>
<path d="M1758 461.2 H1971" stroke="#0000ff"/>
<path d="M1758 556.8 H1971" stroke="#000000" stroke-dasharray="54 31"/>
<path d="M1758 651.7 H1971" stroke="#ff0000" stroke-dasharray="43 15 11.7 15"/>
</g>
<g class="lg" font-size="70">
<text x="1991" y="205.4" textLength="209.09">plate <tspan class="h1">1</tspan></text>
<text x="1991" y="300.4" textLength="209.09">plate 2</text>
<text x="1991" y="395.3" textLength="209.09">plate 3</text>
<text x="1991" y="490.2" textLength="209.09">plate 4</text>
<text x="1991" y="585.8" textLength="209.09">plate 5</text>
<text x="1991" y="680.7" textLength="209.09">plate 6</text>
</g>
</svg></body></html>
